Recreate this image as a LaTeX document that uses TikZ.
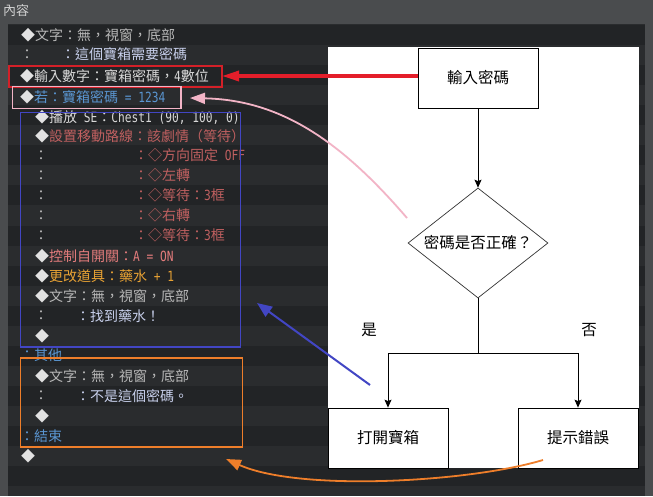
\documentclass[tikz,border=0pt]{standalone}
\usepackage{fontspec}
\setmainfont{Noto Sans CJK TC}
\newfontfamily\lat{DejaVu Sans Mono}[Scale=1.0,FakeStretch=0.8]
\usetikzlibrary{arrows.meta,shapes.geometric}
\definecolor{hdr}{HTML}{4A4C4E}
\definecolor{listbg}{HTML}{2A2C2E}
\definecolor{stripe}{HTML}{222426}
\definecolor{hdrtxt}{HTML}{D2D2D2}
\definecolor{dia}{HTML}{E2E2E2}
\definecolor{txt}{HTML}{B8B8B8}
\definecolor{wht}{HTML}{D8D8D8}
\definecolor{lav}{HTML}{C8D0EC}
\definecolor{blu}{HTML}{5A96D2}
\definecolor{rdt}{HTML}{C06060}
\definecolor{sal}{HTML}{E47C7C}
\definecolor{org}{HTML}{E8A234}
\definecolor{redbox}{HTML}{D42028}
\definecolor{redarr}{HTML}{E41E2A}
\definecolor{pinkc}{HTML}{F2B4C6}
\definecolor{bluec}{HTML}{4246C4}
\definecolor{orgc}{HTML}{EE7E2A}
\newcommand\dm{\textcolor{dia}{◆}}
\begin{document}
\begin{tikzpicture}[x=1pt,y=-1pt,
  li/.style={anchor=west,inner sep=0pt,font=\fontsize{14}{16}\selectfont},
  fbox/.style={draw=black,fill=white,line width=0.8pt,minimum width=120pt,minimum height=60pt,inner sep=0pt,font=\fontsize{15.5}{18}\selectfont},
  fdia/.style={draw=black!80,fill=white,line width=0.7pt,shape=diamond,aspect=1.27,minimum width=140pt,minimum height=110pt,inner sep=0pt,font=\fontsize{15.5}{18}\selectfont},
  flab/.style={inner sep=0pt,font=\fontsize{15.5}{18}\selectfont},
  farr/.style={draw=black,line width=0.8pt,-{Stealth[length=8pt,width=7pt,inset=1.5pt]}},
]
\useasboundingbox (0,0) rectangle (653,496);
% background
\fill[hdr] (0,0) rectangle (653,496);
\fill[listbg] (8,24) rectangle (645,496);
\foreach \i in {0,2,...,22} {
  \fill[stripe] (8,{25+20.05*\i}) rectangle (645,{45.05+20.05*\i});
}
\node[anchor=west,inner sep=0pt,text=hdrtxt,font=\fontsize{13}{15}\selectfont] (hdrlbl) at (3,11) {內容};
% white panel
\fill[white] (328,47) rectangle (639,468);
% listing lines
\node[li,text=txt] (r1) at (21,35) {\dm 文字：無，視窗，底部};
\node[li,text=txt] (r2a) at (20,54.5) {：};
\node[li,text=lav] (r2b) at (61,54.5) {：這個寶箱需要密碼};
\node[li,text=wht] (r3) at (20,76) {\dm 輸入數字：寶箱密碼，{\lat 4}數位};
\node[li,text=blu] (r4) at (20,97) {\dm 若：寶箱密碼{\lat\ = 1234}};
\node[li,text=wht] (r5) at (35,117) {\dm 播放{\lat\ SE}：{\lat Chest1 (90, 100, 0)}};
\node[li,text=rdt] (r6) at (35,136) {\dm 設置移動路線：該劇情（等待）};
\node[li,text=txt] (r7a) at (34,155.5) {：};
\node[li,text=rdt] (r7b) at (134,155.5) {：◇方向固定{\lat\ OFF}};
\node[li,text=txt] (r8a) at (34,175.5) {：};
\node[li,text=rdt] (r8b) at (134,175.5) {：◇左轉};
\node[li,text=txt] (r9a) at (34,195.5) {：};
\node[li,text=rdt] (r9b) at (134,195.5) {：◇等待：{\lat 3}框};
\node[li,text=txt] (r10a) at (34,215.5) {：};
\node[li,text=rdt] (r10b) at (134,215.5) {：◇右轉};
\node[li,text=txt] (r11a) at (34,235.5) {：};
\node[li,text=rdt] (r11b) at (134,235.5) {：◇等待：{\lat 3}框};
\node[li,text=sal] (r12) at (35,256.5) {\dm 控制自開關：{\lat A = ON}};
\node[li,text=org] (r13) at (35,276) {\dm 更改道具：藥水{\lat\ + 1}};
\node[li,text=txt] (r14) at (35,296) {\dm 文字：無，視窗，底部};
\node[li,text=txt] (r15a) at (34,316) {：};
\node[li,text=lav] (r15b) at (76,316) {：找到藥水！};
\node[li] (r16) at (35,336) {\dm};
\node[li,text=blu] (r17) at (20,355.5) {：其他};
\node[li,text=txt] (r18) at (35,376) {\dm 文字：無，視窗，底部};
\node[li,text=txt] (r19a) at (34,396) {：};
\node[li,text=lav] (r19b) at (76,396) {：不是這個密碼。};
\node[li] (r20) at (35,416) {\dm};
\node[li,text=blu] (r21) at (20,436) {：結束};
\node[li] (r22) at (21,456) {\dm};
% highlight boxes
\draw[redbox,line width=2pt] (8.5,66) rectangle (221.5,86.5);
\coordinate (redR) at (222,76);
\draw[pinkc,line width=1.8pt] (12.5,86.5) rectangle (181,108.5);
\coordinate (pinkR) at (190,98);
\draw[bluec,line width=1.8pt] (20.5,112.5) rectangle (240.5,347);
\coordinate (blueR) at (257,303);
\draw[orgc,line width=1.8pt] (20.5,358) rectangle (242.5,447);
\coordinate (orgR) at (226,459);
% flowchart
\node[fbox] (in) at (478,78) {輸入密碼};
\node[fdia] (chk) at (478,243) {密碼是否正確？};
\node[fbox] (open) at (388,438) {打開寶箱};
\node[fbox] (err) at (578,438) {提示錯誤};
\node[flab] (yes) at (369,330) {是};
\node[flab] (no) at (589,330) {否};
\coordinate (split) at (478,353);
\draw[farr] (in.south) -- (chk.north);
\draw[black,line width=0.8pt] (chk.south) -- (split);
\draw[farr] (split) -| (open.north);
\draw[farr] (split) -| (err.north);
% annotation arrows
\coordinate (pinkS) at (407,218);
\coordinate (blueS) at (370,385);
\coordinate (orgS) at (543,460);
\draw[redarr,line width=3.2pt,-{Triangle[length=17pt,width=10pt]}] (in.west |- redR) -- (redR);
\draw[pinkc,line width=1.8pt,-{Triangle[length=15pt,width=11pt]}] (pinkS) .. controls (340,140) and (280,100) .. (pinkR);
\draw[bluec,line width=2pt,-{Triangle[length=15pt,width=12pt]}] (blueS) -- (blueR);
\draw[orgc,line width=1.8pt,-{Triangle[length=15pt,width=11pt]}] (orgS) .. controls (470,482) and (300,492) .. (orgR);
\end{tikzpicture}
\end{document}
